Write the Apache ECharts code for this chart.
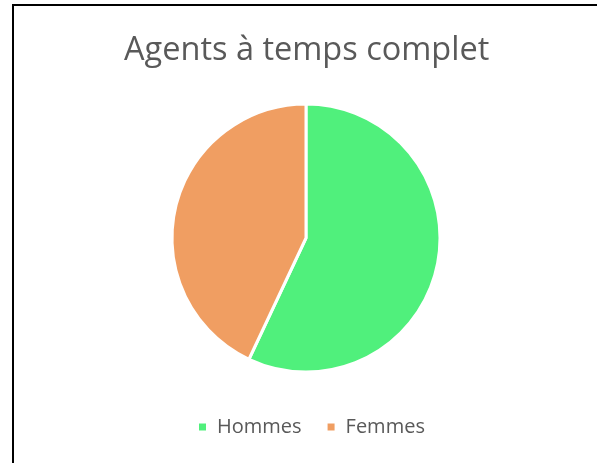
<!DOCTYPE html>
<html>
<head>
<meta charset="utf-8">
<script src="https://cdn.jsdelivr.net/npm/echarts@6/dist/echarts.min.js"></script>
<style>
    html, body { margin: 0; padding: 0; background: #fff; }
    #frame {
        position: absolute; left: 12px; top: 4px; right: 0; bottom: 0;
        border-left: 2px solid #000; border-top: 2px solid #000;
    }
    #chart { position: absolute; left: 0; top: 0; width: 597px; height: 463px; }
</style>
</head>
<body>
<div id="frame"></div>
<div id="chart"></div>
<script>
var categories = ['Hommes', 'Femmes'];
var values = [57, 43];
var colors = ['#50F07C', '#F09E62'];

var chart = echarts.init(document.getElementById('chart'));

var pieData = categories.map(function(name, i) {
    return { name: name, value: values[i], itemStyle: { color: colors[i] } };
});

chart.setOption({
    animation: false,
    title: {
        text: 'Agents à temps complet',
        left: 124,
        top: 34,
        padding: 0,
        textStyle: {
            fontFamily: 'Open Sans',
            fontSize: 32.5,
            fontWeight: 'normal',
            color: '#595959'
        }
    },
    legend: {
        bottom: 26,
        left: 197,
        padding: 0,
        icon: 'rect',
        itemWidth: 9,
        itemHeight: 9,
        itemGap: 24,
        textStyle: {
            fontFamily: 'Open Sans',
            fontSize: 20,
            color: '#595959',
            padding: [0, 0, 0, 5]
        },
        data: categories
    },
    series: [{
        type: 'pie',
        center: [306, 238],
        radius: 134,
        startAngle: 90,
        clockwise: true,
        label: { show: false },
        labelLine: { show: false },
        itemStyle: { borderColor: '#fff', borderWidth: 3 },
        emphasis: { disabled: true },
        data: pieData
    }]
});
</script>
</body>
</html>
